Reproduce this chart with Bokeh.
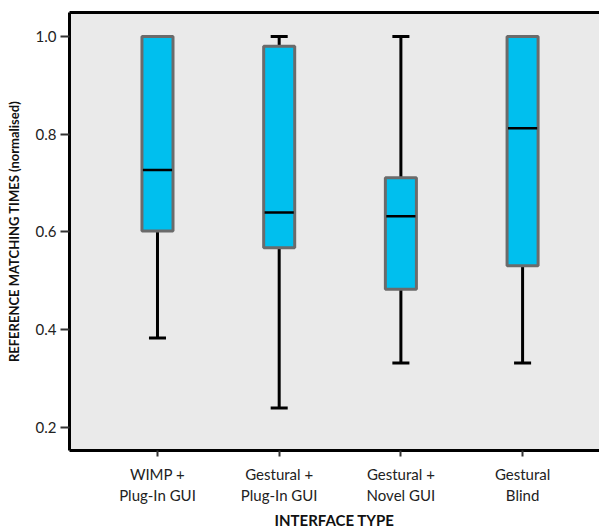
from bokeh.plotting import figure
from bokeh.models import LinearAxis, FixedTicker, Range1d
from bokeh.embed import file_html
from bokeh.resources import INLINE

categories = ["WIMP +\nPlug-In GUI", "Gestural +\nPlug-In GUI", "Gestural +\nNovel GUI", "Gestural\nBlind"]
positions = [1, 2, 3, 4]
lower_whisker = [0.383, 0.240, 0.332, 0.332]
q1 = [0.602, 0.568, 0.483, 0.531]
median = [0.727, 0.640, 0.632, 0.812]
q3 = [1.000, 0.980, 0.711, 1.000]
upper_whisker = [1.000, 1.000, 1.000, 1.000]
y_ticks = [0.2, 0.4, 0.6, 0.8, 1.0]

FONT = "Lato"
BOX_W = 0.255
CAP_HALF = 0.07
MED_HALF = 0.12

p = figure(frame_width=530, frame_height=438, output_backend="svg", toolbar_location=None,
           x_range=Range1d(0.277, 4.632), y_range=Range1d(0.153, 1.049),
           x_axis_label="INTERFACE TYPE",
           y_axis_label="REFERENCE MATCHING TIMES (normalised)",
           min_border_left=69, min_border_top=12, min_border_right=0, min_border_bottom=76)
p.background_fill_color = "#EAEAEA"
p.border_fill_color = "white"
p.outline_line_color = None
p.grid.visible = False

# whiskers
p.segment(x0=positions, y0=q3, x1=positions, y1=upper_whisker, line_color="black", line_width=3)
p.segment(x0=positions, y0=lower_whisker, x1=positions, y1=q1, line_color="black", line_width=3)
x_lo = [x - CAP_HALF for x in positions]
x_hi = [x + CAP_HALF for x in positions]
p.segment(x0=x_lo, y0=upper_whisker, x1=x_hi, y1=upper_whisker, line_color="black", line_width=3)
p.segment(x0=x_lo, y0=lower_whisker, x1=x_hi, y1=lower_whisker, line_color="black", line_width=3)

# boxes
p.vbar(x=positions, width=BOX_W, bottom=q1, top=q3, fill_color="#00BFEE",
       line_color="#6B6B6B", line_width=3)
m_lo = [x - MED_HALF for x in positions]
m_hi = [x + MED_HALF for x in positions]
p.segment(x0=m_lo, y0=median, x1=m_hi, y1=median, line_color="black", line_width=2.5)

# axes
xa = p.xaxis[0]
xa.ticker = FixedTicker(ticks=positions)
xa.major_label_overrides = {pos: lab for pos, lab in zip(positions, categories)}
xa.axis_line_width = 3
xa.axis_line_color = "black"
xa.major_tick_out = 6
xa.major_tick_in = 0
xa.major_tick_line_width = 2
xa.major_tick_line_color = "#333333"
xa.minor_tick_line_color = None
xa.major_label_text_font = FONT
xa.major_label_text_font_size = "15px"
xa.major_label_text_color = "#222222"
xa.major_label_standoff = 8
xa.axis_label_text_font = FONT
xa.axis_label_text_font_style = "bold"
xa.axis_label_text_font_size = "15px"
xa.axis_label_text_color = "#111111"
xa.axis_label_standoff = 4

ya = p.yaxis[0]
ya.ticker = FixedTicker(ticks=y_ticks)
ya.major_label_overrides = {t: f"{t:.1f}" for t in y_ticks}
ya.axis_line_width = 3
ya.axis_line_color = "black"
ya.major_tick_out = 9
ya.major_tick_in = 0
ya.major_tick_line_width = 2
ya.major_tick_line_color = "#333333"
ya.minor_tick_line_color = None
ya.major_label_text_font = FONT
ya.major_label_text_font_size = "15px"
ya.major_label_text_color = "#222222"
ya.major_label_standoff = 4
ya.axis_label_text_font = FONT
ya.axis_label_text_font_style = "bold"
ya.axis_label_text_font_size = "13px"
ya.axis_label_text_color = "#111111"
ya.axis_label_standoff = 11

top = LinearAxis(ticker=FixedTicker(ticks=[]), axis_line_width=3, axis_line_color="black",
                 major_tick_line_color=None, minor_tick_line_color=None,
                 major_label_text_font_size="0px", major_label_standoff=0)
p.add_layout(top, "above")

open("out.html", "w").write(file_html(p, INLINE))
